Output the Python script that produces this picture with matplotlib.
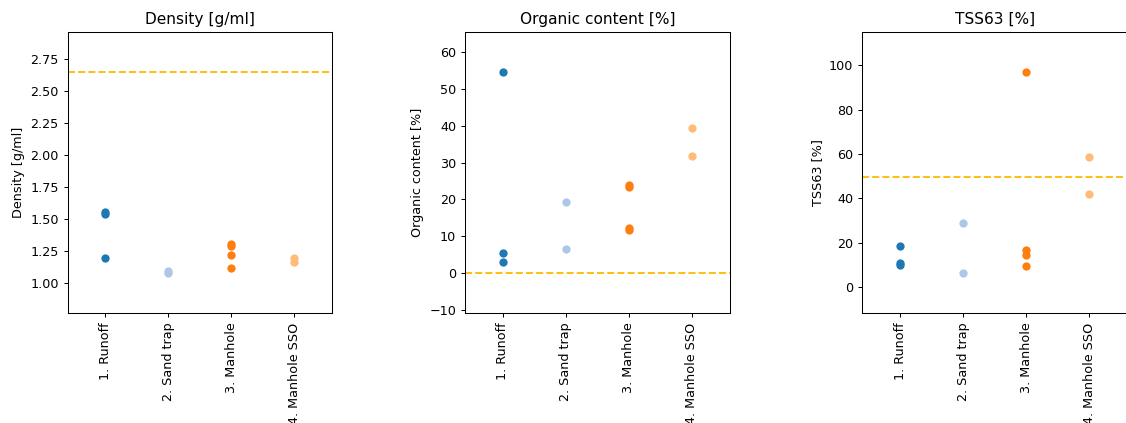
import matplotlib
matplotlib.use("Agg")
import matplotlib.pyplot as plt

categories = ["1. Runoff", "2. Sand trap", "3. Manhole", "4. Manhole SSO"]
colors = ["#1f77b4", "#aec7e8", "#ff7f0e", "#ffbb78"]

density = [
    [1.555, 1.545, 1.195],
    [1.10, 1.08],
    [1.31, 1.29, 1.22, 1.12],
    [1.20, 1.17],
]
organic = [
    [54.6, 5.6, 3.0],
    [19.4, 6.6],
    [24.0, 23.3, 12.4, 11.7],
    [39.3, 31.8],
]
tss63 = [
    [18.8, 11.0, 10.2],
    [29.1, 6.3],
    [96.8, 16.6, 14.7, 9.6],
    [58.7, 41.8],
]

reference_lines = [2.65, 0.0, 49.5]
ylims = [(0.766, 2.966), (-10.8, 65.4), (-11.7, 115.0)]
titles = ["Density [g/ml]", "Organic content [%]", "TSS63 [%]"]
panels = [density, organic, tss63]

DPI = 92
fig = plt.figure(figsize=(1126 / DPI, 423 / DPI), dpi=DPI)
lefts = [0.0601, 0.4130, 0.7658]
for left, data, title, ref, ylim in zip(lefts, panels, titles, reference_lines, ylims):
    ax = fig.add_axes([left, 0.2593, 0.2350, 0.6657])
    for i, (vals, c) in enumerate(zip(data, colors)):
        ax.scatter([i] * len(vals), vals, s=42, color=c, linewidth=0, zorder=3)
    ax.axhline(ref, color="#FFBE0B", linestyle="--", linewidth=1.5, zorder=2)
    ax.set_xlim(-0.6, 3.6)
    ax.set_ylim(*ylim)
    ax.set_xticks(range(len(categories)))
    ax.set_xticklabels(categories, rotation=90)
    ax.set_title(title)
    ax.set_ylabel(title)

fig.savefig("out.png", dpi=DPI)
